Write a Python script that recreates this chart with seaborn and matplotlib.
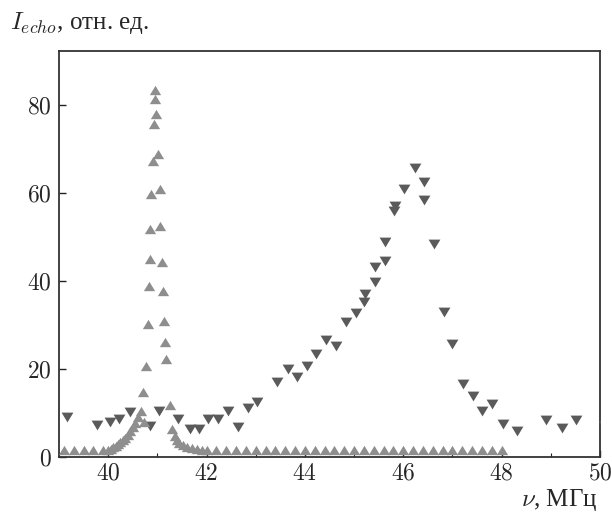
import matplotlib
matplotlib.use("Agg")
import matplotlib.pyplot as plt
from matplotlib.ticker import MultipleLocator, FuncFormatter
from matplotlib.path import Path
import seaborn as sns
import pandas as pd

# narrow line (up triangles)
up_x = [39.1, 39.3, 39.5, 39.7, 39.9,
        40.0, 40.05, 40.1, 40.15, 40.2, 40.25, 40.3, 40.35, 40.4, 40.45, 40.5, 40.55, 40.6,
        40.67, 40.72, 40.70, 40.76, 40.81, 40.84, 40.86, 40.85, 40.88, 40.92, 40.93, 40.96,
        40.95, 40.98, 41.02, 41.05, 41.06, 41.09, 41.11, 41.13, 41.16, 41.18, 41.25, 41.30,
        41.35, 41.40, 41.45, 41.52, 41.6, 41.7, 41.8, 41.9,
        42.0, 42.2, 42.4, 42.6, 42.8, 43.0, 43.2, 43.4, 43.6, 43.8, 44.0, 44.2, 44.4, 44.6,
        44.8, 45.0, 45.2, 45.4, 45.6, 45.8, 46.0, 46.2, 46.4, 46.6, 46.8, 47.0, 47.2, 47.4,
        47.6, 47.8, 48.0]
up_y = [1.5, 1.5, 1.5, 1.5, 1.5,
        1.5, 1.8, 2.2, 2.5, 2.9, 3.3, 3.8, 4.3, 5.0, 5.8, 6.8, 7.8, 9.0,
        10.5, 8.0, 14.7, 20.7, 30.2, 38.9, 45.0, 51.8, 59.8, 67.3, 75.7, 81.4,
        83.5, 78.0, 68.9, 60.9, 52.6, 44.3, 37.7, 31.0, 26.1, 22.3, 11.9, 6.4,
        4.8, 3.8, 3.2, 2.7, 2.3, 2.0, 1.8, 1.6,
        1.5, 1.5, 1.5, 1.5, 1.5, 1.5, 1.5, 1.5, 1.5, 1.5, 1.5, 1.5, 1.5, 1.5,
        1.5, 1.5, 1.5, 1.5, 1.5, 1.5, 1.5, 1.5, 1.5, 1.5, 1.5, 1.5, 1.5, 1.5,
        1.5, 1.5, 1.5]

# broad line (down triangles)
down_x = [39.16, 39.77, 40.04, 40.22, 40.45, 40.86, 41.03, 41.42, 41.66, 41.85,
          42.03, 42.23, 42.44, 42.64, 42.84, 43.02, 43.44, 43.65, 43.84, 44.04,
          44.23, 44.43, 44.64, 44.84, 45.03, 45.21, 45.23, 45.43, 45.43, 45.63,
          45.63, 45.81, 45.83, 46.01, 46.23, 46.42, 46.42, 46.62, 46.82, 47.00,
          47.21, 47.41, 47.61, 47.81, 48.03, 48.32, 48.91, 49.22, 49.51, 50.08]
down_y = [9.0, 7.3, 7.9, 8.7, 10.3, 7.1, 10.5, 8.6, 6.4, 6.4,
          8.6, 8.6, 10.4, 6.9, 11.2, 12.5, 17.0, 19.9, 18.1, 20.8,
          23.4, 26.7, 25.2, 30.6, 32.7, 35.2, 37.0, 39.7, 43.3, 44.6,
          48.9, 56.0, 57.1, 60.9, 65.8, 62.5, 58.4, 48.4, 33.0, 25.7,
          16.7, 13.9, 10.5, 12.0, 7.4, 6.0, 8.3, 6.6, 8.5, 7.3]

x_ticks = [40, 42, 44, 46, 48, 50]
y_ticks = [0, 20, 40, 60, 80]

sns.set_style("ticks")
plt.rcParams["mathtext.fontset"] = "cm"
plt.rcParams["font.family"] = ["Liberation Serif", "DejaVu Serif"]

# slightly wide triangles (as in the reference)
tri_up = Path([(0, 0.83), (-1, -0.83), (1, -0.83), (0, 0.83)],
              [Path.MOVETO, Path.LINETO, Path.LINETO, Path.CLOSEPOLY])
tri_dn = Path([(0, -0.83), (-1, 0.83), (1, 0.83), (0, -0.83)],
              [Path.MOVETO, Path.LINETO, Path.LINETO, Path.CLOSEPOLY])

fig = plt.figure(figsize=(6.12, 5.18), dpi=100)
ax = fig.add_axes([59 / 612, 1 - 457 / 518, 541 / 612, 406 / 518])

df_up = pd.DataFrame({"x": up_x, "y": up_y})
df_dn = pd.DataFrame({"x": down_x, "y": down_y})

sns.scatterplot(data=df_dn, x="x", y="y", marker=tri_dn, s=72, color="#5a5a5a",
                linewidth=0, ax=ax, zorder=3)
sns.scatterplot(data=df_up, x="x", y="y", marker=tri_up, s=66, color="#8e8e8e",
                linewidth=0, ax=ax, zorder=4)

ax.set_xlim(39, 50)
ax.set_ylim(0, 92.3)
ax.set_xticks(x_ticks)
ax.set_yticks(y_ticks)
ax.xaxis.set_minor_locator(MultipleLocator(1))
fmt = FuncFormatter(lambda v, p: f"${int(round(v))}$")
ax.xaxis.set_major_formatter(fmt)
ax.yaxis.set_major_formatter(fmt)
ax.tick_params(axis="both", which="major", direction="in", length=5, width=1.0,
               labelsize=17, color="#222222", pad=5)
ax.tick_params(axis="x", which="minor", direction="in", length=3, width=0.8, color="#222222")
ax.tick_params(axis="y", which="minor", left=False)
ax.set_xlabel("")
ax.set_ylabel("")
for sp in ax.spines.values():
    sp.set_visible(True)
    sp.set_linewidth(1.3)
    sp.set_color("#333333")

fig.text(10 / 612, 1 - 29 / 518, r"$I_{echo}$, отн. ед.", fontsize=18,
         ha="left", va="baseline")
fig.text(597 / 612, 1 - 506 / 518, r"$\nu$, МГц", fontsize=18,
         ha="right", va="baseline")

fig.savefig("out.png", dpi=100)
